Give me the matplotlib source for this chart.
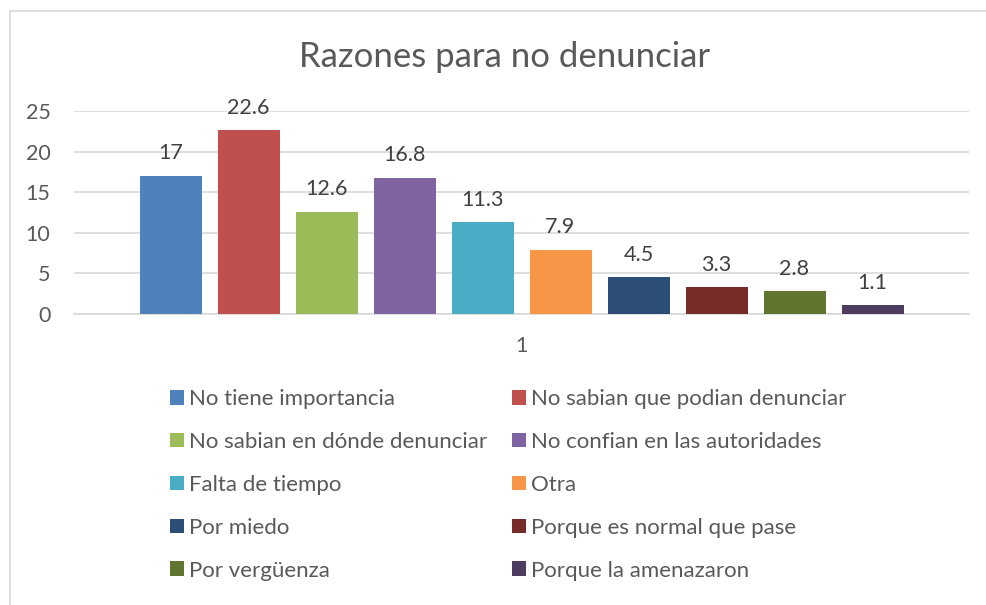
import matplotlib
matplotlib.use("Agg")
import matplotlib.pyplot as plt
from matplotlib.lines import Line2D
from matplotlib.patches import Patch

plt.rcParams['font.family'] = ['Lato', 'DejaVu Sans']

categories = ["No tiene importancia", "No sabian que podian denunciar",
              "No sabian en dónde denunciar", "No confian en las autoridades",
              "Falta de tiempo", "Otra", "Por miedo", "Porque es normal que pase",
              "Por vergüenza", "Porque la amenazaron"]
values = [17, 22.6, 12.6, 16.8, 11.3, 7.9, 4.5, 3.3, 2.8, 1.1]
labels = ["17", "22.6", "12.6", "16.8", "11.3", "7.9", "4.5", "3.3", "2.8", "1.1"]
colors = ["#4F81BD", "#C0504D", "#9BBB59", "#8064A2", "#4BACC6",
          "#F79646", "#2C4D75", "#772C2A", "#5F7530", "#4D3B62"]
yticks = [0, 5, 10, 15, 20, 25]

TXT = "#595959"
GRID = "#D9D9D9"

fig = plt.figure(figsize=(9.86, 6.05), dpi=100)
W, H = 986, 605

# chart border (runs off the right and bottom edges)
fig.add_artist(Line2D([10 / W, 10 / W], [1 - 11 / H, 0], color=GRID, lw=1.2))
fig.add_artist(Line2D([10 / W, 1], [1 - 11 / H, 1 - 11 / H], color=GRID, lw=1.2))

ax = fig.add_axes([74 / W, 1 - 314 / H, (969 - 74) / W, (314 - 111) / H])

step = 78.0
n = len(values)
handles = []
for i, (v, c, lab, cat) in enumerate(zip(values, colors, labels, categories)):
    xpos = (i - (n - 1) / 2)
    ax.bar(xpos, v, width=62 / step, color=c, zorder=3)
    ax.annotate(lab, (xpos, v), xytext=(0, 9), textcoords="offset points",
                ha="center", va="bottom", fontsize=15.5, color="#404040")
    handles.append(Patch(facecolor=c, label=cat))

half = (969 - 74) / 2 / step
ax.set_xlim(-half, half)
ax.set_ylim(0, 25)
ax.set_yticks(yticks)
ax.set_xticks([0])
ax.set_xticklabels(["1"])
ax.tick_params(axis="both", length=0, labelsize=15.5, colors=TXT)
ax.tick_params(axis="y", pad=17)
ax.tick_params(axis="x", pad=16)
ax.grid(axis="y", color=GRID, lw=1.2, zorder=0)
for s in ["top", "right", "left"]:
    ax.spines[s].set_visible(False)
ax.spines["bottom"].set_color(GRID)
ax.spines["bottom"].set_linewidth(1.2)

fig.text(505 / W, 1 - 57 / H, "Razones para no denunciar", ha="center",
         va="center", fontsize=25, color=TXT)

order = [0, 2, 4, 6, 8, 1, 3, 5, 7, 9]
leg = fig.legend([handles[k] for k in order], [categories[k] for k in order],
                 ncol=2, loc="upper left", bbox_to_anchor=(150 / W, 1 - 369 / H),
                 frameon=False, fontsize=16, handlelength=0.64, handleheight=0.64,
                 handletextpad=0.23, labelspacing=1.03, columnspacing=1.1)
for t in leg.get_texts():
    t.set_color(TXT)

fig.savefig("out.png", dpi=100)
